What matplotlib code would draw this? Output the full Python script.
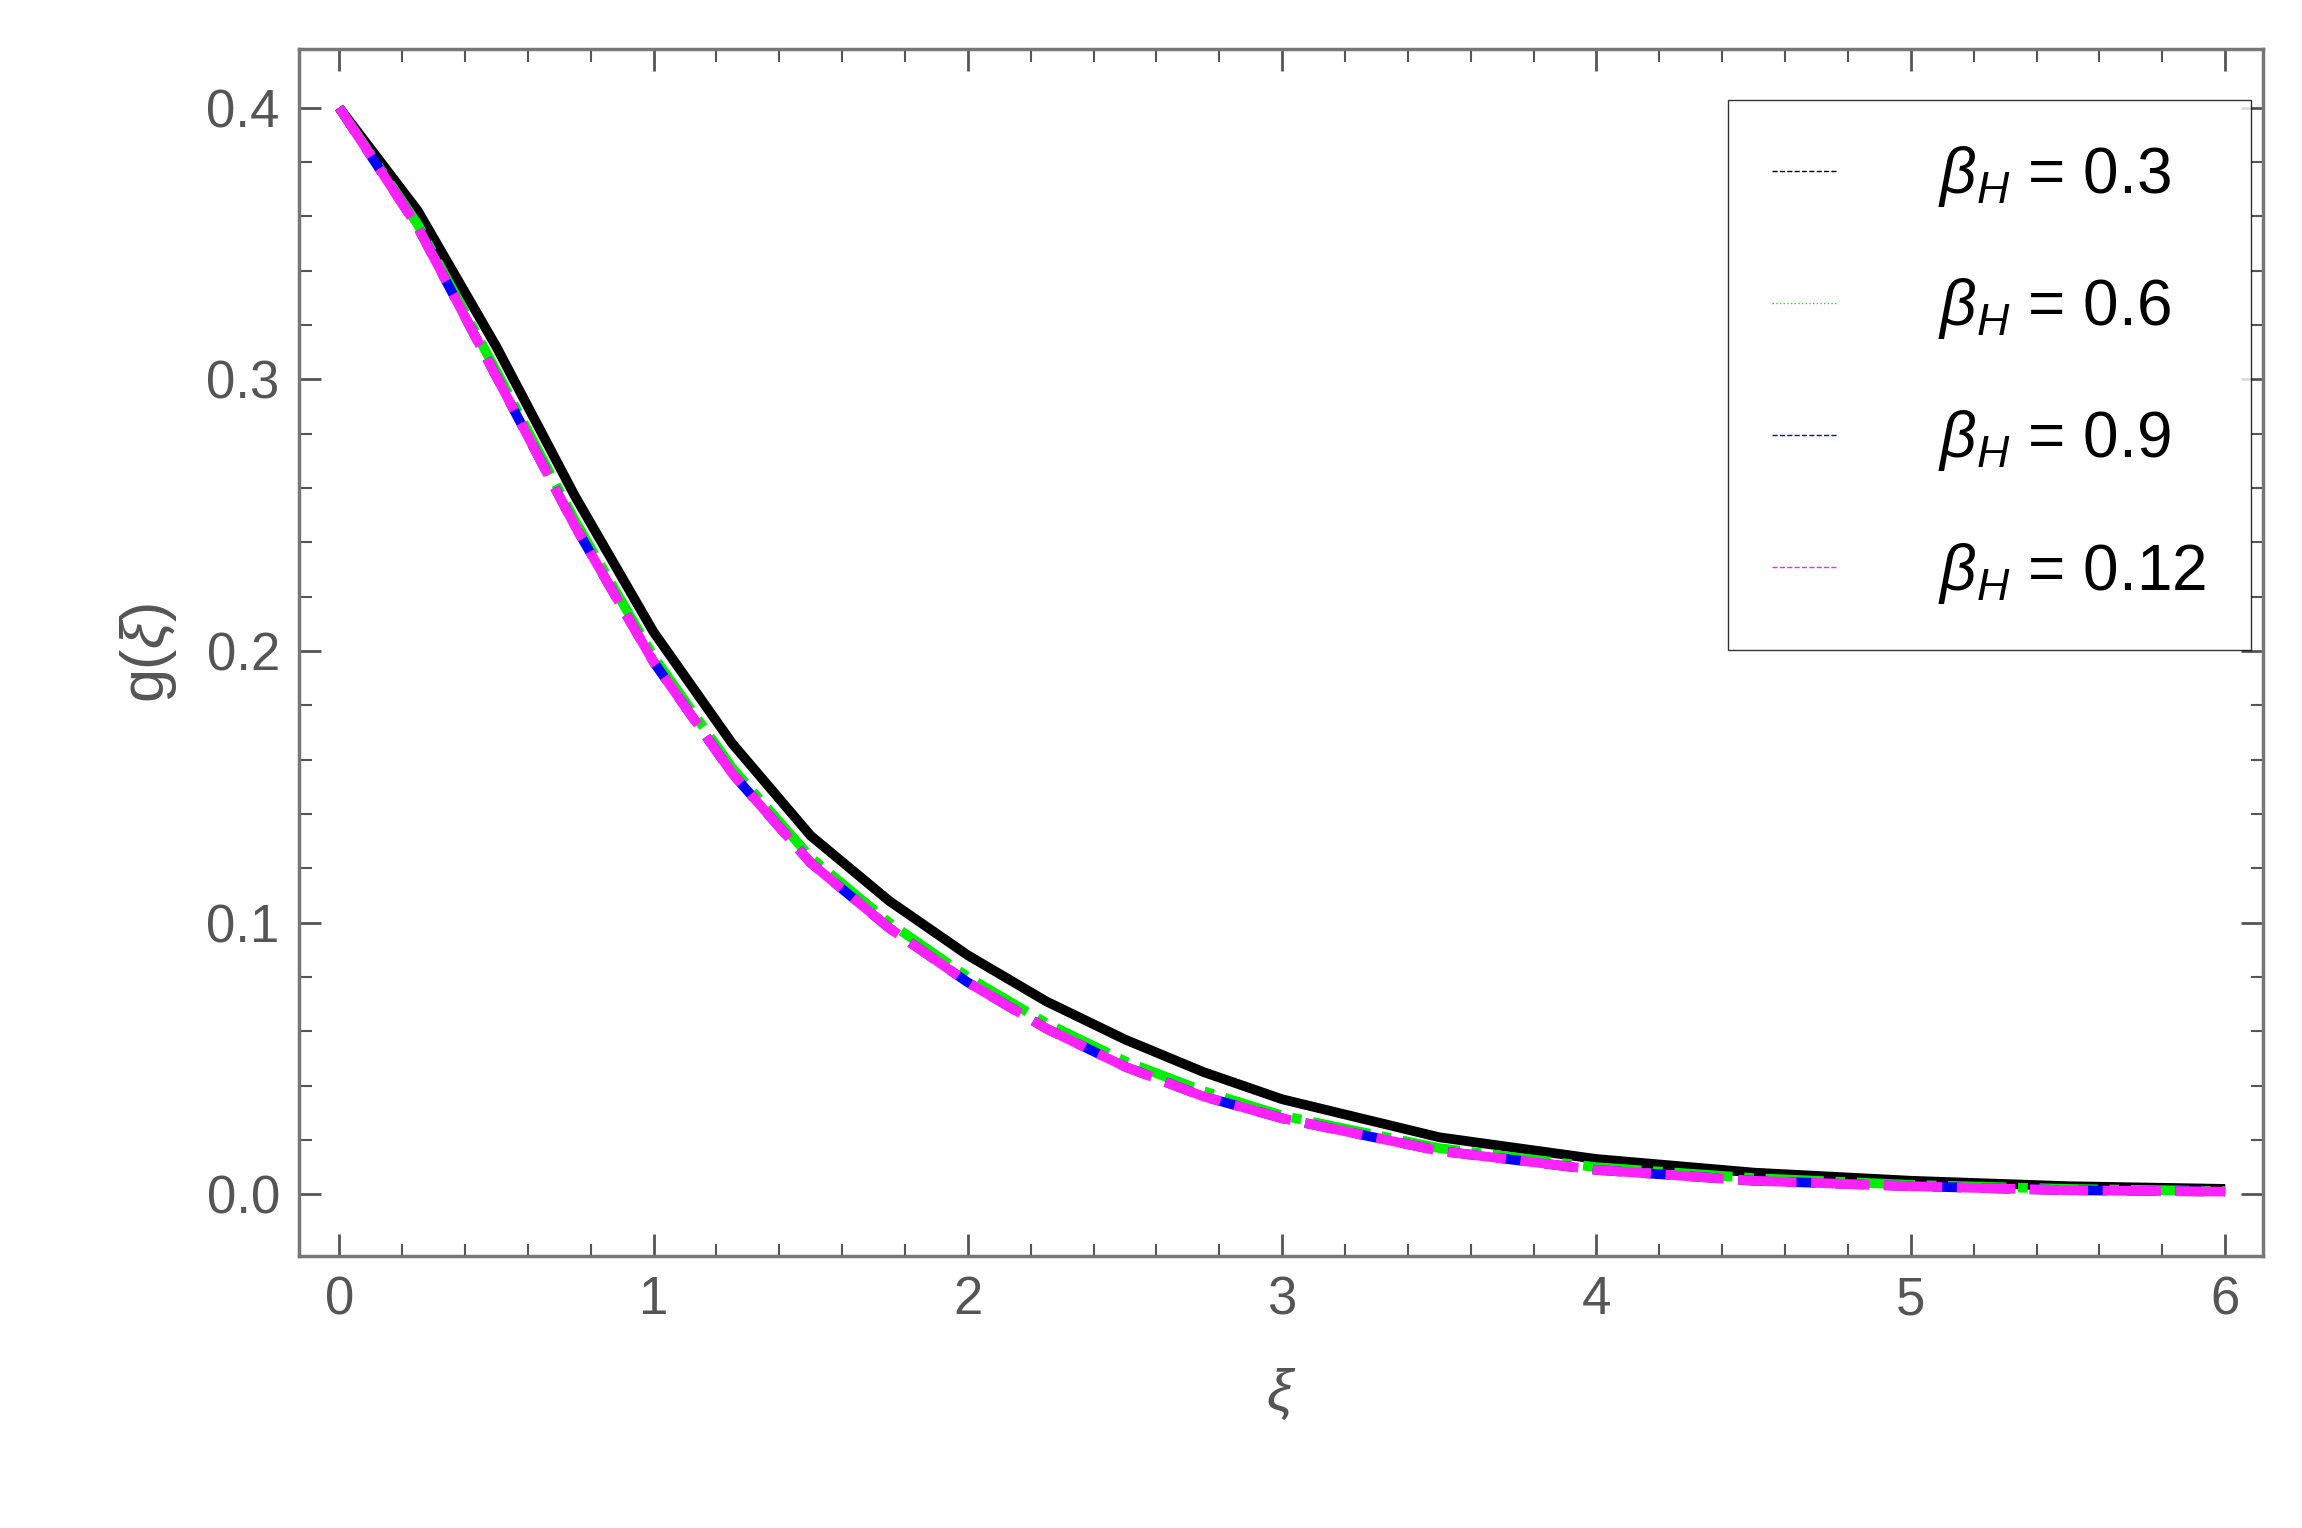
import matplotlib
matplotlib.use("Agg")
import matplotlib.pyplot as plt
from matplotlib.lines import Line2D
import numpy as np

plt.rcParams['font.family'] = ['Liberation Sans', 'DejaVu Sans']
plt.rcParams['mathtext.fontset'] = 'custom'
plt.rcParams['mathtext.it'] = 'Liberation Sans:italic'
plt.rcParams['mathtext.rm'] = 'Liberation Sans'

xi = [0, 0.25, 0.5, 0.75, 1, 1.25, 1.5, 1.75, 2, 2.25, 2.5, 2.75, 3, 3.5, 4, 4.5, 5, 5.5, 6]
g_03 = [0.4, 0.362, 0.312, 0.257, 0.207, 0.166, 0.132, 0.108, 0.088, 0.071, 0.057, 0.045, 0.035, 0.021, 0.013, 0.008, 0.005, 0.003, 0.002]
g_06 = [0.4, 0.357, 0.303, 0.248, 0.198, 0.157, 0.124, 0.100, 0.080, 0.063, 0.049, 0.038, 0.029, 0.017, 0.010, 0.006, 0.0035, 0.002, 0.0012]
g_09 = [0.4, 0.356, 0.301, 0.246, 0.196, 0.155, 0.122, 0.098, 0.078, 0.061, 0.047, 0.036, 0.028, 0.016, 0.009, 0.005, 0.003, 0.0015, 0.001]
g_012 = [0.4, 0.356, 0.301, 0.246, 0.196, 0.155, 0.122, 0.098, 0.078, 0.061, 0.047, 0.036, 0.028, 0.016, 0.009, 0.005, 0.003, 0.0015, 0.001]
labels = [r"$\beta_H$ = 0.3", r"$\beta_H$ = 0.6", r"$\beta_H$ = 0.9", r"$\beta_H$ = 0.12"]
colors = ["black", "#00ee00", "#0000ff", "#ff22ff"]

fig = plt.figure(figsize=(23.02, 15.28), dpi=100)
ax = fig.add_axes([0.130, 0.178, 0.853, 0.790])
ax.plot(xi, g_03, color=colors[0], lw=7, solid_capstyle="butt")
ax.plot(xi, g_06, color=colors[1], lw=7, dashes=(6, 1.2, 1, 1.2))
ax.plot(xi, g_09, color=colors[2], lw=7, dashes=(3, 2))
ax.plot(xi, g_012, color=colors[3], lw=7, dashes=(6, 1.5))

ax.set_xlim(-0.127, 6.12)
ax.set_ylim(-0.0227, 0.4216)
ax.set_xticks(range(7))
ax.set_yticks([0, 0.1, 0.2, 0.3, 0.4])
ax.set_yticklabels(["0.0", "0.1", "0.2", "0.3", "0.4"])
ax.set_xticks(np.arange(0, 6.01, 0.2), minor=True)
ax.set_yticks(np.arange(0, 0.42, 0.02), minor=True)
gray = "#555555"
ax.tick_params(which="both", direction="in", top=True, right=True, colors=gray,
               labelsize=38, labelcolor=gray, pad=14)
ax.tick_params(which="major", length=16, width=2)
ax.tick_params(which="minor", length=9, width=1.5)
for s in ax.spines.values():
    s.set_color("#777777"); s.set_linewidth(2.5)
ax.set_xlabel(r"$\xi$", fontsize=42, color=gray, labelpad=30)
ax.set_ylabel(r"g($\xi$)", fontsize=44, color=gray, labelpad=20)

handles = [Line2D([], [], color=colors[0], lw=1, ls="--"),
           Line2D([], [], color=colors[1], lw=1, ls=":"),
           Line2D([], [], color=colors[2], lw=1, ls="--"),
           Line2D([], [], color=colors[3], lw=1, ls="--")]
leg = ax.legend(handles, labels, loc="upper right", bbox_to_anchor=(0.994, 0.958),
                fontsize=46, frameon=True, fancybox=False, edgecolor="black",
                labelspacing=1.05, handlelength=1.0, handletextpad=1.6, borderpad=0.7,
                borderaxespad=0)
leg.get_frame().set_linewidth(1)
fig.savefig("out.png", dpi=100)
